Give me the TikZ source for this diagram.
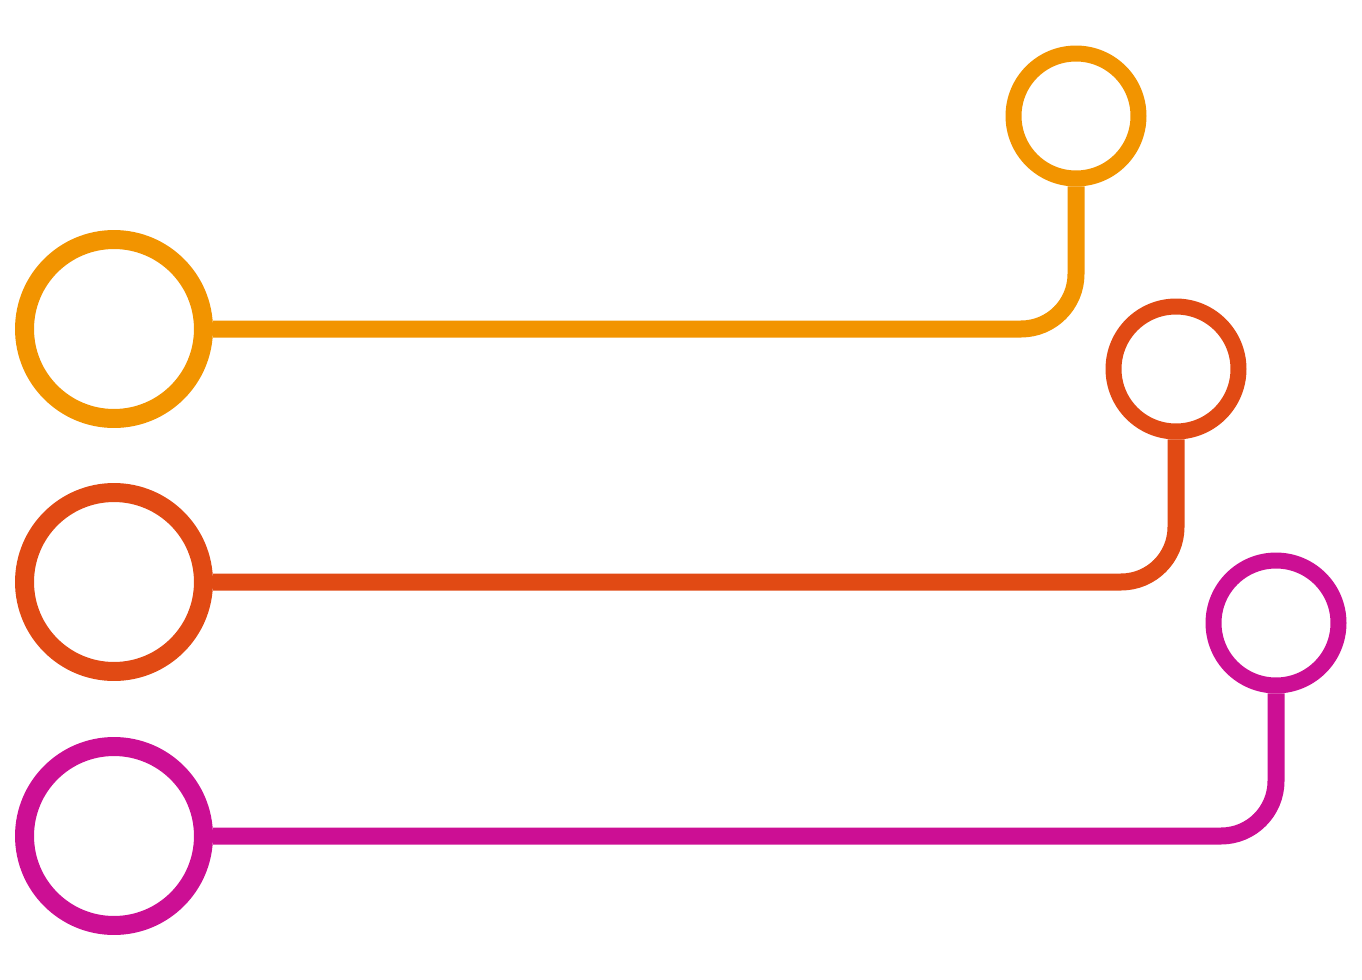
\documentclass[tikz,border=0pt]{standalone}
\usepackage{tikz}

\definecolor{stepA}{HTML}{F29400}
\definecolor{stepB}{HTML}{E14A14}
\definecolor{stepC}{HTML}{CC0F94}

\begin{document}
\begin{tikzpicture}[
            x = .02cm, y = -.02cm,
            every node/.style={circle, inner sep=0pt},
            big/.style={minimum size=3.58cm, line width=.38cm},
            small/.style={minimum size=2.5cm, line width=.32cm},
            line/.style={line width=.34cm, rounded corners=1.1cm},
            ]
        \useasboundingbox (0, 0) rectangle (1362, 980);

        \node[big, draw=stepA] (big1) at (114, 329) {};
        \node[big, draw=stepB] (big2) at (114, 582) {};
        \node[big, draw=stepC] (big3) at (114, 836) {};

        \node[small, draw=stepA] (small1) at (1076, 116) {};
        \node[small, draw=stepB] (small2) at (1176, 369) {};
        \node[small, draw=stepC] (small3) at (1276, 623) {};

        \draw[line, stepA] (big1.east) -| (small1.south);
        \draw[line, stepB] (big2.east) -| (small2.south);
        \draw[line, stepC] (big3.east) -| (small3.south);
    \end{tikzpicture}
\end{document}
